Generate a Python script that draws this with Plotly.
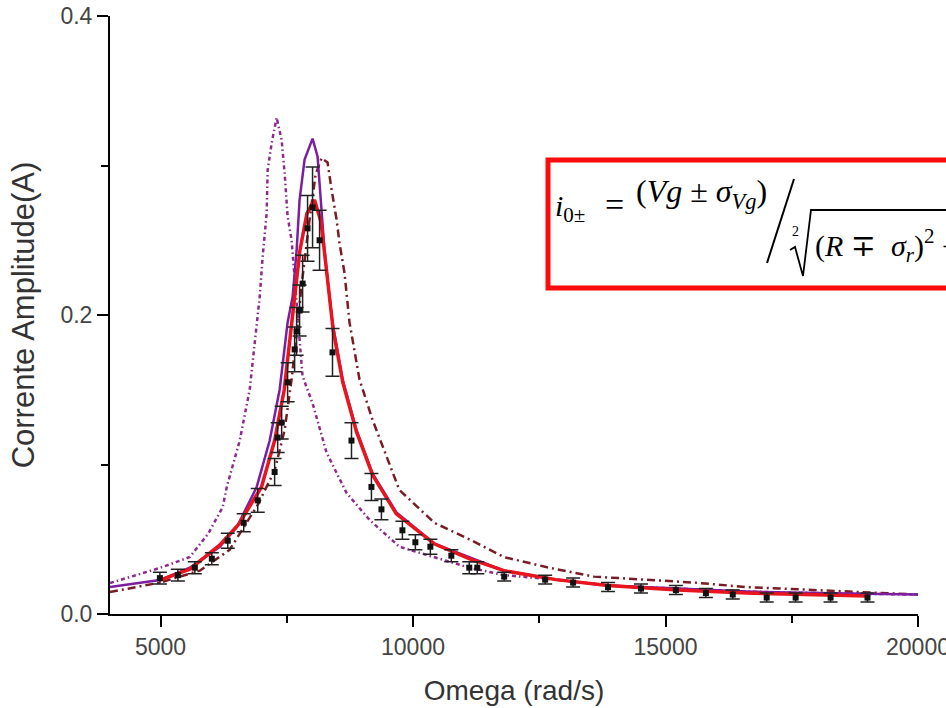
import plotly.graph_objects as go

# ---------------- data ----------------
# experimental points (omega in rad/s, current amplitude in A, error)
data_omega = [4988, 5344, 5680, 6016, 6332, 6648, 6925, 7260, 7320, 7399, 7517, 7656,
              7695, 7754, 7814, 7912, 8011, 8150, 8406, 8782, 9177, 9375, 9790, 10047,
              10344, 10759, 11114, 11273, 11806, 12617, 13170, 13862, 14514, 15206,
              15800, 16332, 17004, 17577, 18269, 19000]
data_amp = [0.024, 0.026, 0.031, 0.037, 0.049, 0.061, 0.076, 0.095, 0.118, 0.128, 0.155, 0.177,
            0.189, 0.203, 0.221, 0.258, 0.272, 0.250, 0.175, 0.116, 0.085, 0.070, 0.056, 0.048,
            0.045, 0.039, 0.031, 0.031, 0.025, 0.023, 0.021, 0.018, 0.017, 0.016,
            0.014, 0.013, 0.011, 0.011, 0.011, 0.011]
data_err = [0.004, 0.004, 0.004, 0.004, 0.005, 0.006, 0.008, 0.009, 0.010, 0.011, 0.013, 0.015,
            0.016, 0.017, 0.019, 0.022, 0.027, 0.020, 0.016, 0.012, 0.009, 0.007, 0.006, 0.005,
            0.005, 0.004, 0.004, 0.004, 0.003, 0.003, 0.003, 0.003, 0.003, 0.003,
            0.003, 0.003, 0.003, 0.003, 0.003, 0.003]

# central curve (red)
red_omega = [4990, 5580, 6170, 6550, 7000, 7260, 7450, 7600, 7760, 7900, 8050, 8180, 8250,
             8350, 8420, 8610, 8880, 9200, 9670, 10420, 11110, 11800, 12830, 13860, 15240,
             16600, 18000, 19000]
red_amp = [0.0227, 0.030, 0.046, 0.060, 0.085, 0.116, 0.150, 0.195, 0.243, 0.268, 0.277, 0.262,
           0.240, 0.208, 0.190, 0.155, 0.122, 0.093, 0.067, 0.047, 0.037, 0.029, 0.023, 0.019,
           0.016, 0.014, 0.013, 0.012]

# upper curve (purple solid)
pur_omega = [4000, 4988, 5581, 6174, 6510, 6905, 7162, 7359, 7517, 7616, 7695, 7754, 7853,
             8011, 8110, 8189, 8248, 8347, 8406, 8604, 8881, 9197, 9671, 10422, 11114, 11805,
             12833, 13861, 15244, 16608, 17992, 20000]
pur_amp = [0.018, 0.0227, 0.031, 0.045, 0.058, 0.085, 0.116, 0.150, 0.195, 0.212, 0.243, 0.277,
           0.304, 0.318, 0.306, 0.266, 0.243, 0.212, 0.195, 0.157, 0.123, 0.094, 0.068, 0.047,
           0.038, 0.029, 0.023, 0.019, 0.017, 0.015, 0.014, 0.013]

# shifted-left curve (purple dash-dot)
left_omega = [4000, 4988, 5581, 5950, 6233, 6312, 6569, 6766, 6865, 6964, 7023, 7102, 7122,
              7201, 7300, 7399, 7458, 7517, 7596, 7813, 8011, 8288, 8683, 9138, 9730, 10422,
              11114, 11805, 12833, 13861, 15244, 16608, 17992, 20000]
left_amp = [0.0207, 0.0308, 0.0381, 0.054, 0.0716, 0.085, 0.116, 0.150, 0.181, 0.212, 0.239,
            0.268, 0.297, 0.315, 0.332, 0.317, 0.295, 0.266, 0.250, 0.159, 0.141, 0.108, 0.081,
            0.063, 0.045, 0.038, 0.031, 0.026, 0.023, 0.019, 0.017, 0.015, 0.014, 0.013]

# shifted-right curve (dark red dash-dot)
right_omega = [4000, 4988, 5778, 6371, 6925, 7260, 7458, 7596, 7695, 7794, 7952, 8071, 8189,
               8308, 8387, 8486, 8545, 8644, 8743, 8940, 9197, 9474, 9730, 10422, 11114, 11805,
               12694, 13584, 14552, 15580, 16608, 17992, 20000]
right_amp = [0.0147, 0.021, 0.029, 0.043, 0.073, 0.096, 0.123, 0.157, 0.187, 0.220, 0.264, 0.294,
             0.305, 0.302, 0.284, 0.264, 0.248, 0.228, 0.195, 0.157, 0.130, 0.105, 0.083, 0.061,
             0.050, 0.038, 0.031, 0.025, 0.023, 0.021, 0.018, 0.016, 0.013]

x_ticks = [5000, 10000, 15000, 20000]
y_ticks = [0.0, 0.2, 0.4]
y_ticklabels = ["0.0", "0.2", "0.4"]

# ---------------- figure ----------------
fig = go.Figure()

fig.add_trace(go.Scatter(x=left_omega, y=left_amp, mode="lines",
                         line=dict(color="#8e2a8c", width=2.5, dash="4px,3px,1.5px,3px"),
                         showlegend=False))
fig.add_trace(go.Scatter(x=right_omega, y=right_amp, mode="lines",
                         line=dict(color="#7a1c24", width=2.5, dash="8px,4px,2px,4px"),
                         showlegend=False))
fig.add_trace(go.Scatter(x=pur_omega, y=pur_amp, mode="lines",
                         line=dict(color="#7b1fa0", width=2.5),
                         showlegend=False))
fig.add_trace(go.Scatter(x=red_omega, y=red_amp, mode="lines",
                         line=dict(color="#e8151e", width=3.5),
                         showlegend=False))
fig.add_trace(go.Scatter(x=data_omega, y=data_amp, mode="markers",
                         marker=dict(symbol="square", size=6, color="#111111"),
                         error_y=dict(type="data", array=data_err, visible=True,
                                      color="#222222", thickness=1.5, width=7),
                         showlegend=False))

# the page body margin is removed below, so the figure sits at the window corner
FW, FH = 946, 708
L, T, W, H = 110, 16, 808, 598


# helpers: window pixel -> paper coordinate
def px(x):
    return (x - L) / W


def py(y):
    return (T + H - y) / H


serif = "Liberation Serif, DejaVu Serif, serif"
shapes = [
    dict(type="rect", xref="paper", yref="paper", x0=px(548), x1=px(1000), y0=py(288), y1=py(160),
         line=dict(color="#ff0a0a", width=5), fillcolor="rgba(0,0,0,0)"),
    dict(type="line", xref="paper", yref="paper", x0=px(767), y0=py(263), x1=px(794), y1=py(179),
         line=dict(color="black", width=2)),
    dict(type="path", xref="paper", yref="paper",
         path="M {:.5f},{:.5f} L {:.5f},{:.5f} L {:.5f},{:.5f} L {:.5f},{:.5f} L {:.5f},{:.5f}".format(
             px(790), py(250), px(795), py(247), px(803), py(276), px(811), py(210), px(1000), py(210)),
         line=dict(color="black", width=1.8)),
]

annotations = [
    dict(text="<i>i</i><sub>0±</sub>", x=px(553), y=py(208), xref="paper", yref="paper",
         xanchor="left", yanchor="middle", showarrow=False, font=dict(family=serif, size=30, color="black")),
    dict(text="=", x=px(603), y=py(204), xref="paper", yref="paper",
         xanchor="left", yanchor="middle", showarrow=False, font=dict(family=serif, size=34, color="black")),
    dict(text="(<i>Vg</i> ± <i>σ</i><sub><i>Vg</i></sub>)", x=px(634), y=py(193), xref="paper", yref="paper",
         xanchor="left", yanchor="middle", showarrow=False, font=dict(family=serif, size=32, color="black")),
    dict(text="2", x=px(795), y=py(231), xref="paper", yref="paper",
         xanchor="center", yanchor="middle", showarrow=False, font=dict(family=serif, size=14, color="black")),
    dict(text="(<i>R</i> ∓  <i>σ</i><sub><i>r</i></sub>)<sup>2</sup> +", x=px(813), y=py(246),
         xref="paper", yref="paper", xanchor="left", yanchor="middle", showarrow=False,
         font=dict(family=serif, size=30, color="black")),
]

sans = "Liberation Sans, Arial, sans-serif"
fig.update_layout(
    width=FW, height=FH,
    margin=dict(l=L, r=FW - L - W, t=T, b=FH - T - H, pad=0, autoexpand=False),
    paper_bgcolor="white", plot_bgcolor="white",
    shapes=shapes, annotations=annotations,
    xaxis=dict(range=[4000, 20000], tickvals=x_ticks, ticktext=[str(v) for v in x_ticks],
               automargin=False, ticklabeloverflow="allow",
               showgrid=False, zeroline=False, showline=True, linecolor="black", linewidth=2,
               ticks="outside", ticklen=11, tickwidth=2, tickcolor="black",
               minor=dict(dtick=2500, tick0=0, ticks="outside", ticklen=7, tickwidth=2, tickcolor="black"),
               tickfont=dict(family=sans, size=23, color="#444444"), ticklabelstandoff=0,
               title=dict(text="Omega (rad/s)", font=dict(family=sans, size=28, color="#333333"), standoff=22)),
    yaxis=dict(range=[0, 0.4], tickvals=y_ticks, ticktext=y_ticklabels,
               automargin=False, ticklabeloverflow="allow",
               showgrid=False, zeroline=False, showline=True, linecolor="black", linewidth=2,
               ticks="outside", ticklen=11, tickwidth=2, tickcolor="black",
               minor=dict(dtick=0.1, tick0=0, ticks="outside", ticklen=7, tickwidth=2, tickcolor="black"),
               tickfont=dict(family=sans, size=23, color="#444444"), ticklabelstandoff=0,
               title=dict(text="Corrente Amplitude(A)", font=dict(family=sans, size=31, color="#333333"),
                          standoff=17)),
)

fig.write_html("out.html", config={"displayModeBar": False},
               post_script="document.body.style.margin='0px';document.body.style.overflow='hidden';")
